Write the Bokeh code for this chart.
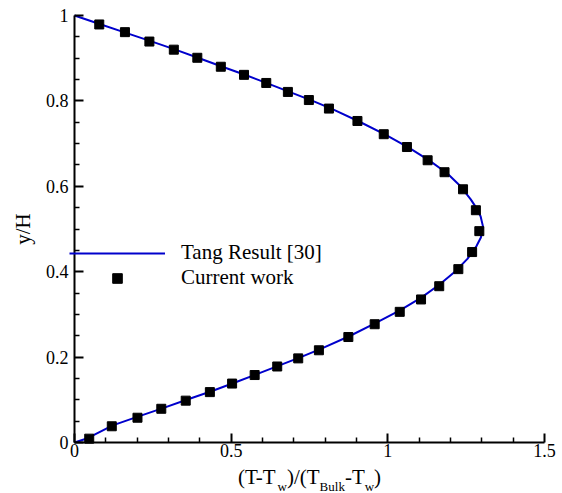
from bokeh.plotting import figure
from bokeh.models import (Legend, LegendItem, FixedTicker, CustomJSTickFormatter, Label)
from bokeh.embed import file_html
from bokeh.resources import INLINE

# ---- data ----
line_y = [0.0, 0.01, 0.04, 0.06, 0.08, 0.10, 0.12, 0.14, 0.16, 0.18, 0.20, 0.22, 0.25,
          0.28, 0.31, 0.34, 0.37, 0.40, 0.43, 0.46, 0.48, 0.505, 0.53, 0.55, 0.57, 0.60,
          0.63, 0.66, 0.69, 0.72, 0.75, 0.78, 0.80, 0.82, 0.84, 0.86, 0.88, 0.90, 0.92,
          0.94, 0.96, 0.98, 1.0]
line_x = [0.0, 0.042, 0.122, 0.200, 0.280, 0.358, 0.437, 0.510, 0.582, 0.652, 0.722, 0.788,
          0.880, 0.962, 1.040, 1.108, 1.165, 1.214, 1.254, 1.283, 1.297, 1.304, 1.296, 1.282,
          1.264, 1.232, 1.190, 1.133, 1.068, 0.995, 0.913, 0.825, 0.760, 0.690, 0.620, 0.548,
          0.472, 0.398, 0.322, 0.243, 0.162, 0.080, 0.0]

cw_y = [0.009, 0.038, 0.058, 0.079, 0.098, 0.118, 0.138, 0.158, 0.178, 0.197, 0.216, 0.247,
        0.277, 0.306, 0.335, 0.366, 0.406, 0.446, 0.495, 0.544, 0.593, 0.633, 0.661, 0.692,
        0.722, 0.753, 0.782, 0.802, 0.821, 0.842, 0.861, 0.880, 0.901, 0.920, 0.939, 0.961,
        0.979]
cw_x = [0.047, 0.119, 0.201, 0.277, 0.355, 0.432, 0.503, 0.575, 0.647, 0.714, 0.780, 0.874,
        0.958, 1.038, 1.106, 1.164, 1.225, 1.269, 1.292, 1.281, 1.240, 1.181, 1.127, 1.061,
        0.987, 0.903, 0.812, 0.748, 0.681, 0.612, 0.541, 0.467, 0.392, 0.317, 0.239, 0.161,
        0.079]

x_ticks = [0, 0.5, 1, 1.5]
x_minor = [0.1, 0.2, 0.3, 0.4, 0.6, 0.7, 0.8, 0.9, 1.1, 1.2, 1.3, 1.4]
y_ticks = [0, 0.2, 0.4, 0.6, 0.8, 1]
y_minor = [0.05, 0.1, 0.15, 0.25, 0.3, 0.35, 0.45, 0.5, 0.55, 0.65, 0.7, 0.75, 0.85, 0.9, 0.95]

FONT = "Liberation Serif"
BLUE = "#0000CC"

# layout in pixels: whole figure is the frame; axes are pinned at 0
W, H = 560, 492
X0_PX, Y0_PX = 74, 442          # pixel position of data origin
PX_X = 470 / 1.5                # pixels per x unit
PX_Y = 427 / 1.0                # pixels per y unit
x_rng = (-X0_PX / PX_X, (W - X0_PX) / PX_X)
y_rng = (-(H - Y0_PX) / PX_Y, Y0_PX / PX_Y)

p = figure(width=W, height=H, x_range=x_rng, y_range=y_rng,
           output_backend="svg", toolbar_location=None,
           min_border_left=0, min_border_top=0, min_border_right=0, min_border_bottom=0)
p.outline_line_color = None
p.xgrid.visible = False
p.ygrid.visible = False
p.background_fill_color = "white"
p.border_fill_color = "white"

fmt = CustomJSTickFormatter(code="return String(Number(tick.toFixed(2)));")
for ax, ticks, minor in ((p.xaxis[0], x_ticks, x_minor), (p.yaxis[0], y_ticks, y_minor)):
    ax.ticker = FixedTicker(ticks=ticks, minor_ticks=minor)
    ax.formatter = fmt
    ax.fixed_location = 0
    ax.axis_line_width = 2
    ax.axis_line_color = "black"
    ax.major_tick_in = 9
    ax.major_tick_out = 0
    ax.minor_tick_in = 5
    ax.minor_tick_out = 0
    ax.major_tick_line_width = 2
    ax.minor_tick_line_width = 1.5
    ax.major_tick_line_color = "black"
    ax.minor_tick_line_color = "black"
    ax.major_label_text_font = FONT
    ax.major_label_text_font_size = "18px"
    ax.major_label_text_color = "black"
p.xaxis[0].major_label_standoff = 1
p.yaxis[0].major_label_standoff = 6
p.xaxis[0].bounds = (0, 1.5)
p.yaxis[0].bounds = (0, 1)

p.yaxis[0].axis_label = "y/H"
p.yaxis[0].axis_label_text_font = FONT
p.yaxis[0].axis_label_text_font_style = "normal"
p.yaxis[0].axis_label_text_font_size = "21px"
p.yaxis[0].axis_label_text_color = "black"
p.yaxis[0].axis_label_standoff = 8

r_line = p.line(line_x, line_y, line_color=BLUE, line_width=2)
r_pts = p.scatter(cw_x, cw_y, marker="square", size=9, fill_color="black", line_color="black")

legend = Legend(items=[LegendItem(label="Tang Result [30]", renderers=[r_line]),
                       LegendItem(label="Current work", renderers=[r_pts])],
                location=(69, H - 290), glyph_width=96, glyph_height=24, label_height=24,
                label_standoff=16, spacing=0, padding=0, margin=0,
                border_line_color=None, background_fill_alpha=0,
                label_text_font=FONT, label_text_font_size="21px", label_text_color="black")
p.add_layout(legend, "center")

# ---- x-axis label with subscripts: (T-T_w)/(T_Bulk-T_w) ----
times_w = {"(": 0.333, ")": 0.333, "T": 0.611, "-": 0.333, "w": 0.722, "/": 0.278,
           "B": 0.667, "u": 0.5, "l": 0.278, "k": 0.5}
segments = [("(T-T", False), ("w", True), (")/(T", False), ("Bulk", True),
            ("-T", False), ("w", True), (")", False)]
main_size, sub_size = 21, 13
widths = [sum(times_w[c] for c in s) * (sub_size if sub else main_size) for s, sub in segments]
cur = 0.75 * PX_X - sum(widths) / 2.0
for (s, sub), w in zip(segments, widths):
    p.add_layout(Label(x=cur / PX_X, y=(-43.5 if sub else -34.7) / PX_Y, text=s,
                       text_font=FONT, text_font_size=f"{sub_size if sub else main_size}px",
                       text_color="black", text_align="left", text_baseline="alphabetic"))
    cur += w

open("out.html", "w").write(file_html(p, INLINE))
